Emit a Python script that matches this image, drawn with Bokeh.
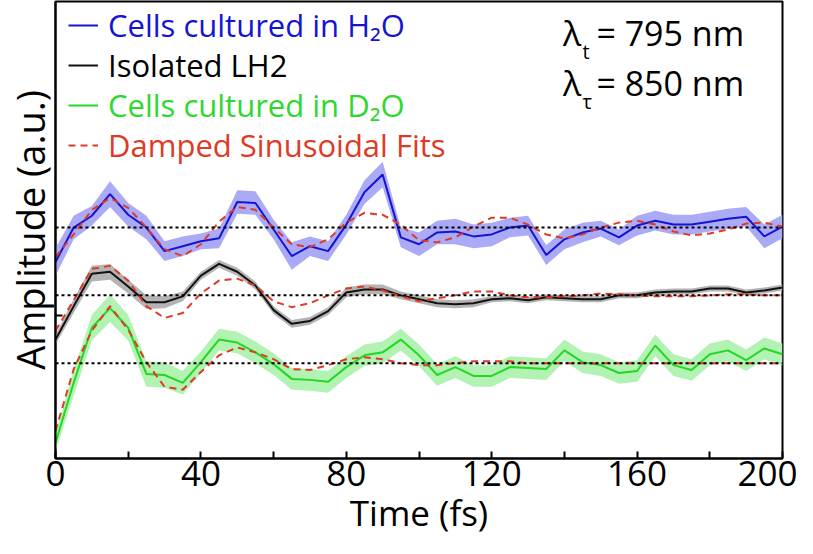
from bokeh.plotting import figure
from bokeh.models import (Range1d, FixedTicker, Legend, LegendItem, Label, Span)
from bokeh.embed import file_html
from bokeh.resources import INLINE

# ---- data (time in fs, amplitude in arbitrary units) ----
time_fs = [0, 5, 10, 15, 20, 25, 30, 35, 40, 45, 50, 55, 60, 65, 70, 75, 80, 85, 90, 95,
           100, 105, 110, 115, 120, 125, 130, 135, 140, 145, 150, 155, 160, 165, 170, 175,
           180, 185, 190, 195, 200]

h2o = [199, 234, 246, 268, 247, 234, 210, 215, 220, 223, 260, 259, 232, 205, 215, 210, 237,
       270, 288, 224, 217, 229, 230, 225, 227, 234, 236, 206, 222, 229, 233, 224, 236, 241,
       237, 237, 240, 243, 245, 225, 235]
h2o_err = [14, 12, 10, 13, 12, 12, 10, 10, 8, 10, 12, 12, 10, 14, 10, 10, 10, 12, 13, 10,
           12, 12, 13, 12, 12, 10, 10, 10, 10, 10, 8, 8, 10, 10, 10, 10, 10, 10, 10, 12, 12]
h2o_fit = [204, 227, 252, 264, 254, 234, 212, 205, 217, 240, 255, 252, 234, 217, 214, 222,
           239, 249, 247, 237, 221, 219, 224, 235, 244, 244, 237, 227, 223, 227, 234, 239,
           241, 237, 230, 226, 228, 232, 238, 239, 235]
h2o_base = 234

lh2 = [120, 154, 187, 189, 174, 158, 158, 164, 185, 197, 189, 175, 150, 136, 139, 149, 168,
       171, 171, 165, 161, 157, 156, 157, 161, 162, 160, 163, 162, 161, 161, 165, 165, 168,
       169, 169, 172, 172, 168, 170, 173]
lh2_err = [5, 7, 8, 8, 7, 7, 6, 5, 4, 4, 4, 4, 4, 4, 4, 4, 5, 5, 5, 4, 4, 4, 4, 4, 3, 3, 3,
           3, 3, 3, 3, 3, 3, 3, 3, 3, 3, 3, 3, 3, 3]
lh2_fit = [129, 160, 192, 195, 180, 154, 142, 147, 167, 180, 182, 175, 159, 153, 157, 165,
           172, 174, 170, 164, 159, 162, 165, 169, 169, 165, 163, 163, 164, 165, 167, 166,
           165, 164, 164, 164, 165, 166, 166, 165, 165]
lh2_base = 165

d2o = [15, 76, 132, 152, 132, 85, 84, 76, 97, 120, 117, 107, 95, 80, 79, 77, 92, 104, 107,
       120, 104, 84, 92, 83, 83, 92, 91, 90, 109, 97, 94, 86, 88, 114, 94, 89, 105, 109, 99,
       111, 105]
d2o_err = [9, 13, 13, 14, 13, 13, 13, 12, 11, 11, 11, 11, 11, 11, 11, 11, 11, 11, 11, 11,
           11, 11, 11, 11, 11, 11, 11, 11, 11, 11, 11, 11, 11, 11, 11, 11, 11, 11, 11, 11, 11]
d2o_fit = [27, 90, 129, 154, 130, 97, 72, 69, 87, 104, 112, 107, 100, 90, 89, 94, 100, 102,
           100, 96, 94, 94, 96, 98, 98, 98, 96, 96, 96, 96, 96, 96, 96, 96, 96, 96, 96, 96,
           96, 96, 96]
d2o_base = 96

x_ticks = [0, 20, 40, 60, 80, 100, 120, 140, 160, 180, 200]
x_tick_labels = ["0", "", "40", "", "80", "", "120", "", "160", "", "200"]
y_ticks = [144]

FONT = "Open Sans"
BLUE, BLUE_BAND = "#1414d2", "#aaaaf6"
BLACK, GRAY_BAND = "#111111", "#b4b4b4"
GREEN, GREEN_BAND = "#22d822", "#b2f2b2"
RED = "#e03a25"

p = figure(width=797, height=538, output_backend="svg", toolbar_location=None,
           x_range=Range1d(0, 200), y_range=Range1d(-1, 464),
           min_border_left=42, min_border_right=15, min_border_top=1, min_border_bottom=0)
p.grid.visible = False
p.outline_line_color = "black"
p.outline_line_width = 2
p.background_fill_color = "white"

def band(y, e):
    return [v - d for v, d in zip(y, e)], [v + d for v, d in zip(y, e)]

lo, hi = band(h2o, h2o_err)
p.varea(x=time_fs, y1=lo, y2=hi, fill_color=BLUE_BAND)
lo, hi = band(lh2, lh2_err)
p.varea(x=time_fs, y1=lo, y2=hi, fill_color=GRAY_BAND)
lo, hi = band(d2o, d2o_err)
p.varea(x=time_fs, y1=lo, y2=hi, fill_color=GREEN_BAND)

for b in (h2o_base, lh2_base, d2o_base):
    p.add_layout(Span(location=b, dimension="width", line_color="black",
                      line_width=2, line_dash="3 3"))

r_h2o = p.line(time_fs, h2o, line_color=BLUE, line_width=2)
r_lh2 = p.line(time_fs, lh2, line_color=BLACK, line_width=2)
r_d2o = p.line(time_fs, d2o, line_color=GREEN, line_width=2)
r_fit = p.line(time_fs, h2o_fit, line_color=RED, line_width=2, line_dash="7 5")
p.line(time_fs, lh2_fit, line_color=RED, line_width=2, line_dash="7 5")
p.line(time_fs, d2o_fit, line_color=RED, line_width=2, line_dash="7 5")

# axes
p.xaxis.ticker = FixedTicker(ticks=x_ticks)
p.xaxis.major_label_overrides = {t: s for t, s in zip(x_ticks, x_tick_labels)}
p.xaxis.minor_tick_line_color = None
p.xaxis.major_tick_in = 7
p.xaxis.major_tick_out = 0
p.xaxis.major_tick_line_width = 2
p.xaxis.axis_line_width = 2
p.xaxis.major_label_text_font = FONT
p.xaxis.major_label_text_font_size = "35px"
p.xaxis.major_label_text_color = "black"
p.xaxis.major_label_standoff = 2
p.xaxis.axis_label = "Time (fs)"
p.xaxis.axis_label_text_font = FONT
p.xaxis.axis_label_text_font_size = "35px"
p.xaxis.axis_label_text_font_style = "normal"
p.xaxis.axis_label_text_color = "black"
p.xaxis.axis_label_standoff = 0

p.yaxis.ticker = FixedTicker(ticks=y_ticks)
p.yaxis.major_label_overrides = {144: ""}
p.yaxis.minor_tick_line_color = None
p.yaxis.major_tick_in = 7
p.yaxis.major_tick_out = 0
p.yaxis.major_tick_line_width = 2
p.yaxis.axis_line_width = 2
p.yaxis.major_label_standoff = 0
p.yaxis.axis_label = "Amplitude (a.u.)"
p.yaxis.axis_label_text_font = FONT
p.yaxis.axis_label_text_font_size = "38px"
p.yaxis.axis_label_text_font_style = "normal"
p.yaxis.axis_label_text_color = "black"
p.yaxis.axis_label_standoff = 0

# legend rows, one per colour
rows = [("Cells cultured in H\u2082O", r_h2o, BLUE),
        ("Isolated LH2", r_lh2, "black"),
        ("Cells cultured in D\u2082O", r_d2o, "#2ed82e"),
        ("Damped Sinusoidal Fits", r_fit, RED)]
for i, (label, rend, col) in enumerate(rows):
    lg = Legend(items=[LegendItem(label=label, renderers=[rend])],
                location=(13, 412 - 40 * i),
                label_text_font=FONT, label_text_font_size="31px",
                label_text_color=col, glyph_width=30, glyph_height=42,
                label_height=42, label_standoff=10, padding=0, margin=0, spacing=0,
                border_line_alpha=0, background_fill_alpha=0)
    p.add_layout(lg)

# wavelength annotations
for (sub, txt, yb, ys) in [("t", "= 795 nm", 432, 413), ("\u03c4", "= 850 nm", 381, 362)]:
    p.add_layout(Label(x=139.6, y=yb, text="\u03bb", text_font=FONT, text_font_size="34px",
                       text_color="black", text_baseline="alphabetic"))
    p.add_layout(Label(x=145.0, y=ys, text=sub, text_font=FONT, text_font_size="20px",
                       text_color="black", text_baseline="alphabetic"))
    p.add_layout(Label(x=148.8, y=yb, text=txt, text_font=FONT, text_font_size="34px",
                       text_color="black", text_baseline="alphabetic"))

open("out.html", "w").write(file_html(p, INLINE))
